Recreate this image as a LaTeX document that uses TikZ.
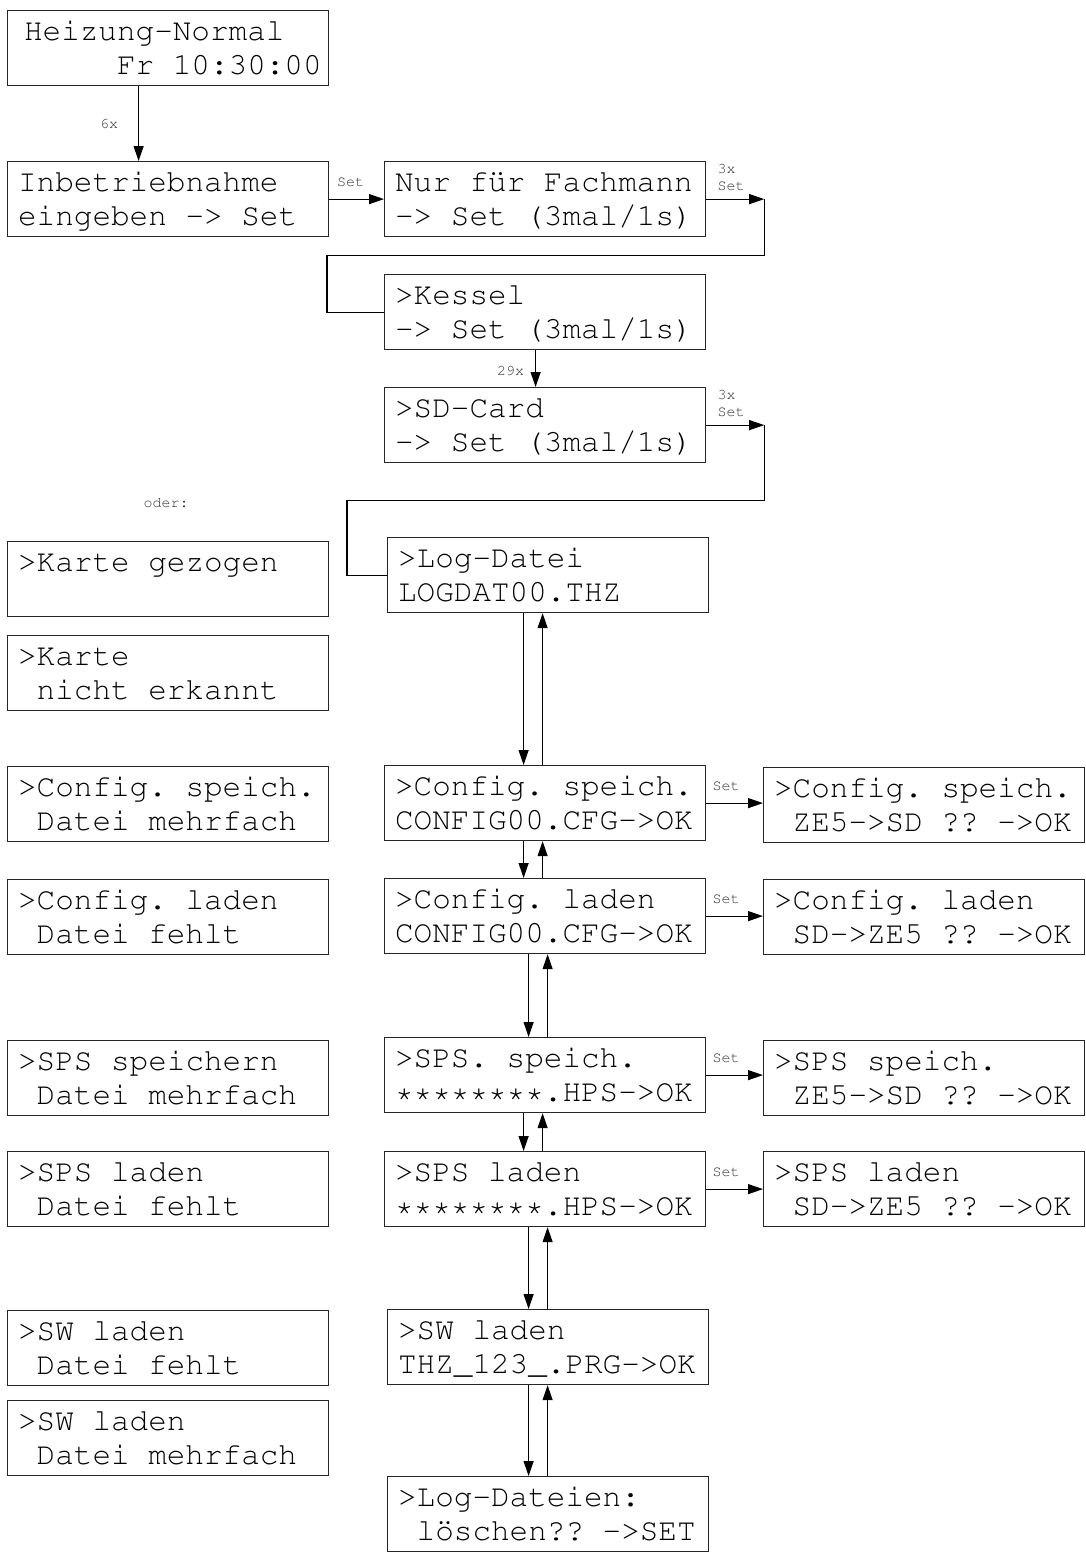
\documentclass[tikz,border=0pt]{standalone}
\usepackage[T1,TU]{fontenc}
\usetikzlibrary{arrows.meta}
\newcommand{\lcdfont}{\fontencoding{T1}\fontfamily{pcr}\fontseries{m}\fontshape{n}}
\newcommand{\lcdlines}[2]{\spaceskip=0.6em\relax\xspaceskip=0.6em\relax\rule{0pt}{30pt}\mbox{#1}\\\mbox{#2}\rule[-11pt]{0pt}{11pt}}

\begin{document}
\begin{tikzpicture}[>={Triangle[length=15pt,width=10pt]},x=1pt,y=-1pt,line width=1.2pt,
  lcd/.style={draw=black!85,anchor=north west,inner xsep=10.5pt,inner ysep=0pt,text width=300pt,align=left,font=\lcdfont\fontsize{31}{34}\selectfont},
  key/.style={font=\lcdfont\fontsize{15}{17}\selectfont,text=black!80,inner sep=1pt}]
\useasboundingbox (0,0) rectangle (1085,1553);

\node[lcd,inner xsep=16.5pt,text width=288pt] (heiz) at (7,10) {\lcdlines{Heizung-Normal}{\phantom{xxxxx}Fr 10:30:00}};
\node[lcd] (inbetr) at (7,161) {\lcdlines{Inbetriebnahme}{eingeben -> Set}};
\node[lcd] (nur) at (384,161) {\lcdlines{Nur für Fachmann}{-> Set (3mal/1s)}};
\node[lcd] (kessel) at (384,274) {\lcdlines{>Kessel}{-> Set (3mal/1s)}};
\node[lcd] (sdcard) at (384,387) {\lcdlines{>SD-Card}{-> Set (3mal/1s)}};
\node[lcd] (logd) at (387,537) {\lcdlines{>Log-Datei}{LOGDAT00.THZ}};
\node[lcd] (cfgs) at (384,765) {\lcdlines{>Config. speich.}{CONFIG00.CFG->OK}};
\node[lcd] (cfgl) at (384,878) {\lcdlines{>Config. laden}{CONFIG00.CFG->OK}};
\node[lcd] (spss) at (384,1037) {\lcdlines{>SPS. speich.}{********.HPS->OK}};
\node[lcd] (spsl) at (384,1151) {\lcdlines{>SPS laden}{********.HPS->OK}};
\node[lcd] (swl) at (387,1309) {\lcdlines{>SW laden}{THZ\_123\_.PRG->OK}};
\node[lcd] (logdel) at (387,1476) {\lcdlines{>Log-Dateien:}{\phantom{x}löschen?? ->SET}};

\node[lcd] (cfgsok) at (763,767) {\lcdlines{>Config. speich.}{\phantom{x}ZE5->SD ?? ->OK}};
\node[lcd] (cfglok) at (763,879) {\lcdlines{>Config. laden}{\phantom{x}SD->ZE5 ?? ->OK}};
\node[lcd] (spssok) at (763,1040) {\lcdlines{>SPS speich.}{\phantom{x}ZE5->SD ?? ->OK}};
\node[lcd] (spslok) at (763,1151) {\lcdlines{>SPS laden}{\phantom{x}SD->ZE5 ?? ->OK}};

\node[key] (oder) at (166,503) {oder:};
\node[lcd] (kgez) at (7,541) {\lcdlines{>Karte gezogen}{}};
\node[lcd] (knicht) at (7,635) {\lcdlines{>Karte}{\phantom{x}nicht erkannt}};
\node[lcd] (cfgsdup) at (7,766) {\lcdlines{>Config. speich.}{\phantom{x}Datei mehrfach}};
\node[lcd] (cfglmiss) at (7,879) {\lcdlines{>Config. laden}{\phantom{x}Datei fehlt}};
\node[lcd] (spssdup) at (7,1040) {\lcdlines{>SPS speichern}{\phantom{x}Datei mehrfach}};
\node[lcd] (spslmiss) at (7,1151) {\lcdlines{>SPS laden}{\phantom{x}Datei fehlt}};
\node[lcd] (swlmiss) at (7,1310) {\lcdlines{>SW laden}{\phantom{x}Datei fehlt}};
\node[lcd] (swldup) at (7,1400) {\lcdlines{>SW laden}{\phantom{x}Datei mehrfach}};

\draw[->] ([xshift=-29.5pt]heiz.south) -- ([xshift=-29.5pt]heiz.south |- inbetr.north) node[key,left=19pt,midway] {6x};
\draw[->] (inbetr.east) -- (inbetr.east -| nur.west) node[key,above=11pt,pos=0.39] {Set};

\coordinate (turnA) at ([xshift=58pt]nur.east);
\draw[->] (nur.east) -- (turnA) node[key,anchor=south west,align=left,pos=0.17,yshift=7pt] {3x\\Set};
\draw (turnA) -- ++(0,56) -| ([xshift=-57pt]kessel.west) -- (kessel.west);
\draw[->] ([xshift=-9.5pt]kessel.south) -- ([xshift=-9.5pt]kessel.south |- sdcard.north) node[key,left=10pt,pos=0.55] {29x};

\coordinate (turnB) at ([xshift=58pt]sdcard.east);
\draw[->] (sdcard.east) -- (turnB) node[key,anchor=south west,align=left,pos=0.17,yshift=7pt] {3x\\Set};
\draw (turnB) -- ++(0,75.5) -| ([xshift=-40pt]logd.west) -- (logd.west);

\draw[->] ([xshift=-24.5pt]logd.south) -- ([xshift=-24.5pt]logd.south |- cfgs.north);
\draw[<-] ([xshift=-5.5pt]logd.south) -- ([xshift=-5.5pt]logd.south |- cfgs.north);
\draw[->] ([xshift=-21.5pt]cfgs.south) -- ([xshift=-21.5pt]cfgs.south |- cfgl.north);
\draw[<-] ([xshift=-2.5pt]cfgs.south) -- ([xshift=-2.5pt]cfgs.south |- cfgl.north);
\draw[->] ([xshift=-16.5pt]cfgl.south) -- ([xshift=-16.5pt]cfgl.south |- spss.north);
\draw[<-] ([xshift=2.5pt]cfgl.south) -- ([xshift=2.5pt]cfgl.south |- spss.north);
\draw[->] ([xshift=-21.5pt]spss.south) -- ([xshift=-21.5pt]spss.south |- spsl.north);
\draw[<-] ([xshift=-2.5pt]spss.south) -- ([xshift=-2.5pt]spss.south |- spsl.north);
\draw[->] ([xshift=-16.5pt]spsl.south) -- ([xshift=-16.5pt]spsl.south |- swl.north);
\draw[<-] ([xshift=2.5pt]spsl.south) -- ([xshift=2.5pt]spsl.south |- swl.north);
\draw[->] ([xshift=-19.5pt]swl.south) -- ([xshift=-19.5pt]swl.south |- logdel.north);
\draw[<-] ([xshift=-0.5pt]swl.south) -- ([xshift=-0.5pt]swl.south |- logdel.north);

\draw[->] (cfgs.east) -- (cfgs.east -| cfgsok.west) node[key,above=11pt,pos=0.35] {Set};
\draw[->] (cfgl.east) -- (cfgl.east -| cfglok.west) node[key,above=11pt,pos=0.35] {Set};
\draw[->] (spss.east) -- (spss.east -| spssok.west) node[key,above=11pt,pos=0.35] {Set};
\draw[->] (spsl.east) -- (spsl.east -| spslok.west) node[key,above=11pt,pos=0.35] {Set};
\end{tikzpicture}
\end{document}
